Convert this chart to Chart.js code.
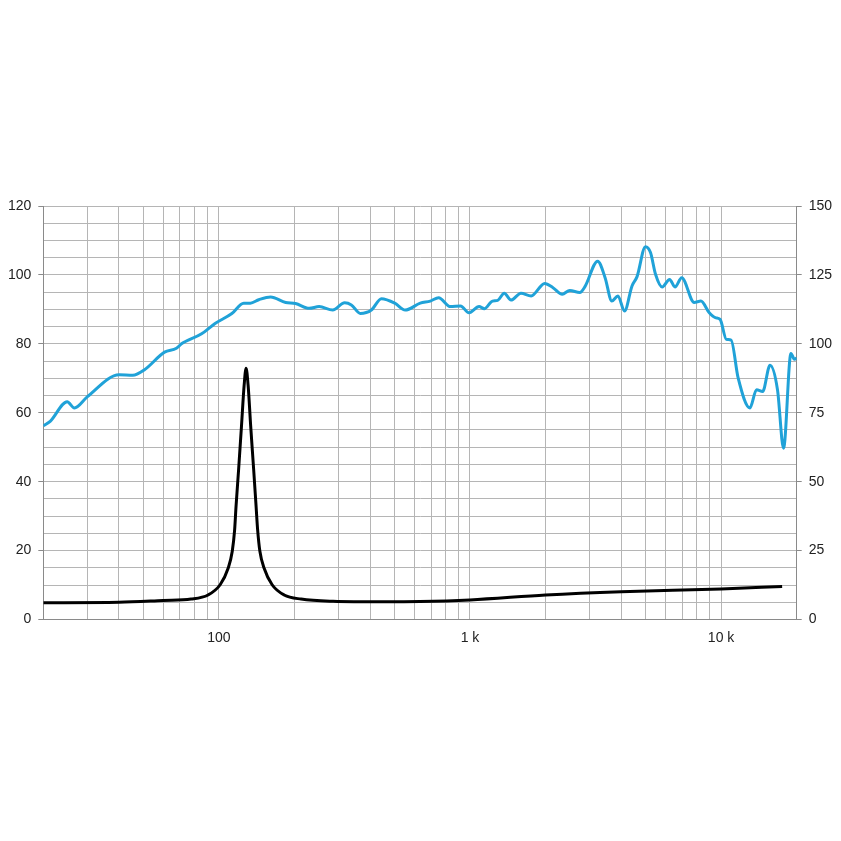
<!DOCTYPE html>
<html>
<head>
<meta charset="utf-8">
<script src="https://cdn.jsdelivr.net/npm/chart.js@4.4.1/dist/chart.umd.min.js"></script>
<style>
  html, body { margin: 0; padding: 0; background: #fff; }
  #wrap { width: 841px; height: 841px; }
</style>
</head>
<body>
<div id="wrap"><canvas id="freqChart" width="841" height="841"></canvas></div>
<script>
// SPL curve (left axis, dB)
var splFreq = [20, 21.3, 24.9, 26.6, 29.9, 40.1, 45.4, 50.6, 60.8, 67.8, 71, 85.4, 96.6, 112.7, 125.6, 133.5, 144.3, 160.7, 184.6, 202,
  229, 251, 284, 317, 337, 366, 405, 444, 502, 552, 634, 695, 750, 836, 917, 991, 1087, 1140, 1229, 1290,
  1369, 1457, 1596, 1753, 1984, 2141, 2330, 2497, 2738, 2870, 3225, 3452, 3672, 3883, 4125, 4418, 4627, 4998, 5235, 5481,
  5829, 6237, 6551, 6969, 7811, 8308, 8974, 9486, 9910, 10493, 10960, 11690, 13020, 13840, 14640, 15660, 16770, 17730, 18970, 19600, 20000]
var splDb = [56.2, 57.5, 63.2, 61.4, 64.6, 71.0, 70.9, 72.5, 77.6, 78.7, 80.0, 82.9, 85.9, 88.8, 91.8, 91.8, 92.8, 93.6, 92.0, 91.7,
  90.3, 90.8, 89.8, 91.9, 91.3, 88.8, 89.8, 93.1, 91.8, 89.8, 91.8, 92.4, 93.4, 90.8, 91.0, 89.0, 90.8, 90.2, 92.4, 92.6,
  94.7, 92.7, 94.7, 93.9, 97.5, 96.3, 94.4, 95.5, 94.9, 96.6, 104.0, 99.2, 92.4, 93.9, 89.5, 96.8, 99.5, 108.2, 106.5, 100.2,
  96.5, 98.7, 96.5, 99.2, 92.0, 92.4, 89.0, 87.6, 87.1, 81.3, 81.1, 70.1, 61.4, 66.7, 66.2, 73.8, 66.7, 49.7, 77.2, 75.5, 75.9]

// impedance curve (right axis, ohm)
var impFreq = [20, 40, 60, 77.5, 90.6, 101.2, 108.9, 113.1, 115.6, 117.1, 119.9, 123.1, 126.1, 128.4,
  130.8, 133.9, 137.6, 140.7, 142.7, 145.7, 151.5, 163, 182, 212.6, 285, 450, 632, 1000, 2000, 4000, 10000, 17500]
var impOhm = [6.1, 6.25, 6.9, 7.4, 8.9, 12.6, 18.6, 24.75, 32.6, 41.1, 54.5, 70.25, 84.9, 91.1,
  84.9, 70.25, 54.5, 41.1, 32.6, 24.75, 18.6, 12.6, 8.9, 7.4, 6.6, 6.4, 6.5, 7.1, 8.9, 10.1, 11.1, 12.0]

// x grid positions and the few labelled ones
var xGrid = [20, 30, 40, 50, 60, 70, 80, 90, 100, 200, 300, 400, 500, 600, 700, 800, 900,
  1000, 2000, 3000, 4000, 5000, 6000, 7000, 8000, 9000, 10000, 20000]
var xLabels = { 100: '100', 1000: '1 k', 10000: '10 k' }

function pts(xs, ys) {
  return xs.map(function (x, i) { return { x: x, y: ys[i] } })
}

var gridCol = '#b5b5b5'
var axisCol = '#8a8a8a'
var font = { family: '"Liberation Sans", Arial, sans-serif', size: 14 }

Chart.defaults.color = '#222'

new Chart(document.getElementById('freqChart').getContext('2d'), {
  type: 'line',
  data: {
    datasets: [
      {
        label: 'SPL',
        data: pts(splFreq, splDb),
        yAxisID: 'y',
        borderColor: '#20a2d8',
        borderWidth: 3,
        pointRadius: 0,
        cubicInterpolationMode: 'monotone',
        fill: false
      },
      {
        label: 'Impedance',
        data: pts(impFreq, impOhm),
        yAxisID: 'y2',
        borderColor: '#000',
        borderWidth: 3,
        pointRadius: 0,
        cubicInterpolationMode: 'monotone',
        fill: false
      }
    ]
  },
  options: {
    responsive: false,
    animation: false,
    layout: { padding: { top: 206, bottom: 190, left: 0, right: 0 } },
    plugins: { legend: { display: false }, tooltip: { enabled: false } },
    scales: {
      x: {
        type: 'logarithmic',
        min: 20,
        max: 20000,
        afterBuildTicks: function (s) { s.ticks = xGrid.map(function (v) { return { value: v } }) },
        afterFit: function (s) { s.height = 31.5 },
        ticks: {
          autoSkip: false,
          maxRotation: 0,
          padding: 10,
          font: font,
          callback: function (v) { return xLabels[v] || '' }
        },
        grid: { color: gridCol, drawTicks: false },
        border: { color: axisCol }
      },
      y: {
        position: 'left',
        min: 0,
        max: 120,
        afterFit: function (s) { s.width = 43.3 },
        ticks: {
          stepSize: 5,
          maxTicksLimit: 40,
          autoSkip: false,
          padding: 7,
          font: font,
          callback: function (v) { return v % 20 === 0 ? v : '' }
        },
        grid: {
          color: gridCol,
          tickLength: 5,
          tickColor: function (c) { return c.tick && c.tick.value % 20 === 0 ? axisCol : 'rgba(0,0,0,0)' }
        },
        border: { color: axisCol }
      },
      y2: {
        position: 'right',
        min: 0,
        max: 150,
        afterFit: function (s) { s.width = 44.3 },
        ticks: {
          stepSize: 6.25,
          maxTicksLimit: 40,
          autoSkip: false,
          padding: 7,
          font: font,
          callback: function (v) { return v % 25 === 0 ? v : '' }
        },
        grid: {
          drawOnChartArea: false,
          tickLength: 5,
          tickColor: function (c) { return c.tick && c.tick.value % 25 === 0 ? axisCol : 'rgba(0,0,0,0)' }
        },
        border: { color: axisCol }
      }
    }
  }
})
</script>
</body>
</html>
